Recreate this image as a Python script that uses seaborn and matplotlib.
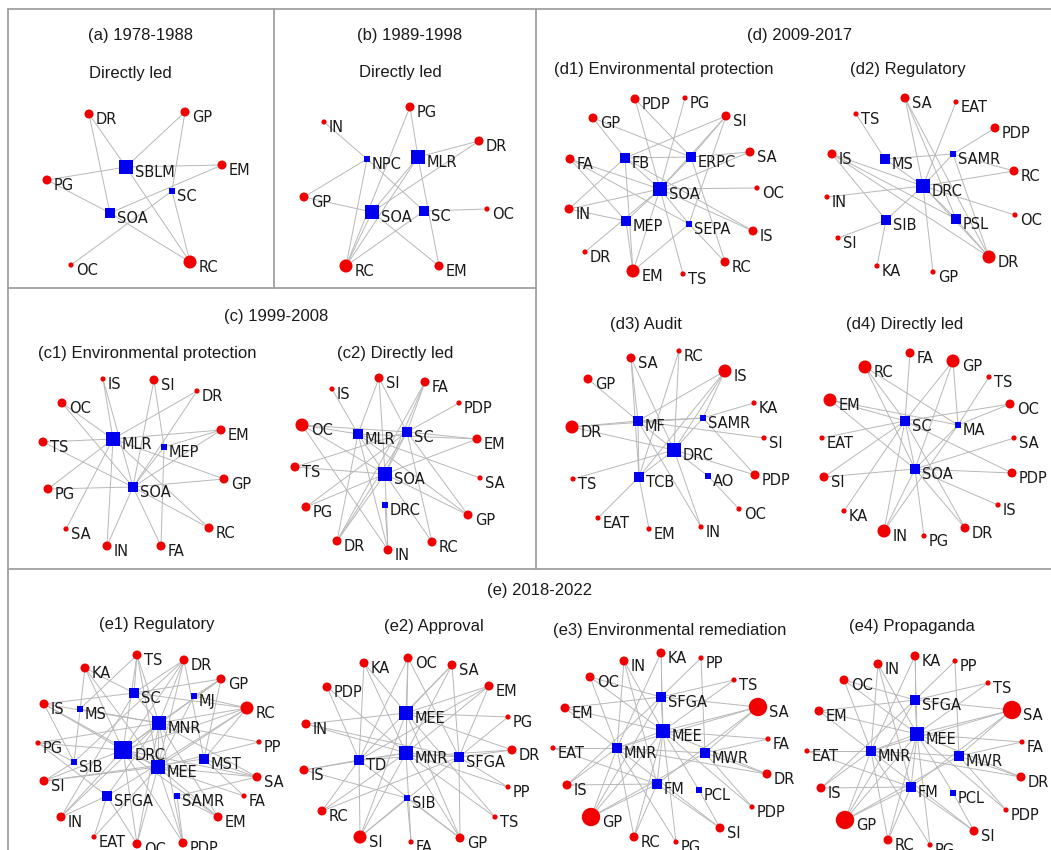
import pandas as pd
import matplotlib.pyplot as plt
import seaborn as sns
from matplotlib.collections import LineCollection

sns.set_theme(style="white")
plt.rcParams["font.family"] = ["DejaVu Sans"]

# Agencies are drawn as blue squares, policy tools as red circles
agencies = ["SBLM", "SC", "SOA", "NPC", "MLR", "MEP", "DRC", "FB", "ERPC", "SEPA",
            "MS", "SAMR", "SIB", "PSL", "MF", "TCB", "AO", "MA", "MJ", "MNR",
            "MST", "MEE", "SFGA", "TD", "MWR", "FM", "PCL"]

# (a) 1978-1988 Directly led
a_nodes = ["DR", "GP", "SBLM", "EM", "PG", "SC", "SOA", "OC", "RC"]
a_x = [89, 185, 126, 222, 47, 172, 110, 71, 190]
a_y = [114, 112, 167, 165, 180, 191, 213, 265, 262]
a_weight = [2, 2, 3, 2, 2, 1, 2, 1, 3]
a_edges = ["DR-SBLM", "DR-SOA", "GP-SBLM", "GP-SC", "EM-SBLM", "EM-SOA", "PG-SBLM",
           "PG-SOA", "SC-OC", "SC-RC", "SBLM-RC", "SOA-RC"]

# (b) 1989-1998 Directly led
b_nodes = ["PG", "IN", "DR", "NPC", "MLR", "GP", "SOA", "SC", "OC", "RC", "EM"]
b_x = [410, 324, 479, 367, 418, 304, 372, 424, 487, 346, 439]
b_y = [107, 122, 141, 159, 157, 197, 212, 211, 209, 266, 266]
b_weight = [2, 1, 2, 1, 3, 2, 3, 2, 1, 3, 2]
b_edges = ["PG-MLR", "PG-RC", "IN-NPC", "NPC-GP", "NPC-SC", "NPC-RC", "DR-MLR",
           "DR-SOA", "GP-SOA", "MLR-SOA", "MLR-EM", "SOA-EM", "SC-OC", "SC-RC",
           "SOA-RC", "MLR-RC"]

# (c1) 1999-2008 Environmental protection
c1_nodes = ["IS", "SI", "DR", "OC", "MLR", "MEP", "EM", "TS", "GP", "SOA", "PG",
            "SA", "RC", "IN", "FA"]
c1_x = [103, 154, 197, 62, 113, 164, 221, 43, 224, 133, 48, 66, 209, 107, 161]
c1_y = [379, 380, 391, 403, 439, 447, 430, 442, 479, 487, 489, 529, 528, 546, 546]
c1_weight = [1, 2, 1, 2, 3, 1, 2, 2, 2, 2, 2, 1, 2, 2, 2]
c1_edges = ["IS-MLR", "IS-SOA", "SI-SOA", "SI-MEP", "DR-MLR", "DR-SOA", "OC-SOA",
            "OC-MLR", "TS-MLR", "TS-SOA", "EM-MLR", "EM-MEP", "EM-SOA", "GP-MLR",
            "GP-SOA", "PG-SOA", "PG-MLR", "SA-MLR", "IN-MLR", "IN-SOA", "FA-SOA",
            "FA-MEP", "RC-SOA", "RC-MLR", "MEP-SOA"]

# (c2) 1999-2008 Directly led
c2_nodes = ["SI", "FA", "IS", "PDP", "OC", "MLR", "SC", "EM", "TS", "SOA", "SA",
            "PG", "DRC", "GP", "DR", "RC", "IN"]
c2_x = [379, 425, 332, 459, 302, 358, 407, 477, 295, 385, 480, 306, 385, 468, 337, 432, 388]
c2_y = [378, 382, 389, 403, 425, 434, 432, 439, 467, 474, 478, 507, 505, 515, 541, 542, 550]
c2_weight = [2, 2, 1, 1, 3, 2, 2, 2, 2, 3, 1, 2, 1, 2, 2, 2, 2]
c2_edges = ["SI-MLR", "SI-SC", "SI-SOA", "FA-SC", "FA-SOA", "FA-DR", "IS-MLR",
            "PDP-SC", "OC-MLR", "OC-SC", "OC-SOA", "OC-IN", "EM-SC", "EM-MLR",
            "EM-SOA", "TS-SOA", "TS-SC", "SA-MLR", "PG-SC", "PG-SOA", "GP-SC",
            "GP-MLR", "GP-SOA", "DR-MLR", "DR-SOA", "DR-SC", "RC-SC", "RC-SOA",
            "IN-MLR", "IN-SOA", "IN-DRC", "MLR-SOA", "SC-SOA"]

# (d1) 2009-2017 Environmental protection
d1_nodes = ["PDP", "PG", "SI", "GP", "FB", "ERPC", "SA", "FA", "SOA", "OC", "IN",
            "MEP", "SEPA", "IS", "DR", "RC", "EM", "TS"]
d1_x = [635, 685, 726, 593, 625, 691, 750, 570, 660, 757, 569, 626, 689, 753, 585, 725, 633, 683]
d1_y = [99, 98, 116, 118, 158, 157, 152, 159, 189, 188, 209, 221, 224, 231, 252, 262, 271, 274]
d1_weight = [2, 1, 2, 2, 2, 2, 2, 2, 3, 1, 2, 2, 1, 2, 1, 2, 3, 1]
d1_edges = ["GP-FB", "GP-ERPC", "PDP-SOA", "PDP-ERPC", "PG-SOA", "SI-FB", "SI-ERPC",
            "SI-SOA", "SI-SEPA", "SA-ERPC", "SA-SOA", "FA-SOA", "FA-MEP", "FA-SEPA",
            "OC-SOA", "IN-FB", "IN-SOA", "IN-MEP", "IS-SOA", "IS-FB", "DR-SOA",
            "RC-SEPA", "RC-ERPC", "EM-MEP", "EM-FB", "EM-SOA", "EM-SEPA", "TS-SOA",
            "FB-SOA", "ERPC-SOA", "MEP-SOA", "SEPA-SOA", "FB-ERPC"]

# (d2) 2009-2017 Regulatory
d2_nodes = ["SA", "EAT", "TS", "PDP", "IS", "MS", "SAMR", "RC", "DRC", "IN", "OC",
            "SIB", "PSL", "SI", "DR", "KA", "GP"]
d2_x = [905, 956, 856, 995, 832, 885, 953, 1014, 923, 827, 1015, 886, 956, 838, 989, 877, 933]
d2_y = [98, 102, 114, 128, 154, 159, 154, 171, 186, 197, 215, 220, 219, 238, 257, 266, 272]
d2_weight = [2, 1, 1, 2, 2, 2, 1, 2, 3, 1, 1, 2, 2, 1, 3, 1, 1]
d2_edges = ["SA-DRC", "SA-PSL", "SA-DR", "EAT-DRC", "TS-MS", "PDP-SAMR", "IS-DRC",
            "IS-SIB", "IS-PSL", "IS-DR", "MS-SAMR", "MS-DRC", "SAMR-RC", "SAMR-DR",
            "RC-DRC", "DRC-IN", "DRC-OC", "DRC-SIB", "DRC-PSL", "DRC-GP", "SIB-SI",
            "SIB-KA", "PSL-DR", "DRC-DR", "SAMR-DRC"]

# (d3) 2009-2017 Audit
d3_nodes = ["SA", "RC", "IS", "GP", "KA", "MF", "SAMR", "DR", "SI", "DRC", "TCB",
            "AO", "PDP", "TS", "OC", "EAT", "EM", "IN"]
d3_x = [631, 679, 725, 588, 754, 638, 703, 572, 764, 674, 639, 708, 755, 573, 739, 598, 649, 701]
d3_y = [358, 351, 371, 379, 403, 421, 418, 427, 438, 450, 477, 476, 475, 479, 509, 518, 529, 527]
d3_weight = [2, 1, 3, 2, 1, 2, 1, 3, 1, 3, 2, 1, 2, 1, 1, 1, 1, 1]
d3_edges = ["SA-MF", "SA-TCB", "SA-DRC", "RC-DRC", "RC-TCB", "IS-MF", "IS-DRC",
            "IS-SAMR", "IS-TCB", "GP-MF", "KA-SAMR", "MF-SAMR", "DR-MF", "DR-SAMR",
            "DR-DRC", "SI-MF", "MF-TCB", "MF-DRC", "MF-IN", "TS-DRC", "DRC-AO",
            "DRC-PDP", "DRC-IN", "DRC-TCB", "AO-OC", "TCB-EAT", "TCB-EM",
            "SAMR-DRC", "SAMR-PDP"]

# (d4) 2009-2017 Directly led
d4_nodes = ["FA", "RC", "GP", "TS", "EM", "OC", "SC", "MA", "EAT", "SA", "SOA",
            "SI", "PDP", "KA", "IS", "IN", "PG", "DR"]
d4_x = [910, 865, 953, 989, 830, 1010, 905, 958, 822, 1014, 915, 824, 1012, 844, 998, 884, 924, 965]
d4_y = [353, 367, 361, 377, 400, 404, 421, 425, 438, 438, 469, 477, 473, 511, 505, 531, 536, 528]
d4_weight = [2, 3, 3, 1, 3, 2, 2, 1, 1, 1, 2, 2, 2, 1, 1, 3, 1, 2]
d4_edges = ["FA-SC", "RC-SC", "RC-SOA", "RC-MA", "GP-SC", "GP-MA", "GP-SOA",
            "TS-MA", "EM-SC", "EM-MA", "EM-SOA", "OC-SC", "OC-MA", "EAT-SC",
            "SA-SOA", "SI-SC", "SI-SOA", "PDP-SC", "PDP-SOA", "KA-SC", "IS-SOA",
            "IN-SC", "IN-SOA", "IN-MA", "PG-SOA", "DR-SOA", "DR-SC", "SC-SOA", "MA-SOA"]

# (e1) 2018-2022 Regulatory
e1_nodes = ["TS", "DR", "KA", "GP", "SC", "MJ", "IS", "MS", "RC", "MNR", "PG",
            "DRC", "PP", "SIB", "MST", "MEE", "SI", "SA", "SFGA", "SAMR", "FA",
            "IN", "EM", "EAT", "OC", "PDP"]
e1_x = [137, 184, 85, 221, 134, 194, 44, 80, 247, 159, 38, 123, 259, 74, 204, 158,
        44, 257, 107, 177, 244, 61, 218, 94, 137, 183]
e1_y = [655, 660, 668, 679, 693, 696, 704, 709, 708, 723, 743, 750, 742, 762, 759, 767,
        781, 777, 796, 796, 796, 817, 817, 837, 844, 843]
e1_weight = [2, 2, 2, 2, 2, 1, 2, 1, 3, 3, 1, 4, 1, 1, 2, 3, 2, 2, 2, 1, 1, 2, 2, 1, 2, 2]
e1_edges = ["TS-SC", "TS-MNR", "TS-DRC", "TS-MEE", "TS-MS", "DR-SC", "DR-MNR",
            "DR-DRC", "DR-MEE", "DR-MST", "DR-SIB", "KA-SC", "KA-DRC", "KA-MEE",
            "KA-SIB", "GP-MJ", "GP-MNR", "GP-DRC", "GP-MST", "GP-SC", "IS-SC",
            "IS-MNR", "IS-DRC", "IS-SIB", "IS-MEE", "RC-MJ", "RC-MNR", "RC-DRC",
            "RC-MST", "RC-MEE", "RC-SC", "RC-SFGA", "PG-SIB", "PG-DRC", "PG-MNR",
            "PG-SFGA", "PP-MNR", "PP-MEE", "SI-SIB", "SI-DRC", "SI-MEE", "SI-MST",
            "SA-MST", "SA-MEE", "SA-MNR", "SA-DRC", "SA-SAMR", "FA-MST", "FA-MEE",
            "IN-SFGA", "IN-DRC", "IN-MNR", "IN-SC", "EM-SAMR", "EM-MEE", "EM-MNR",
            "EM-DRC", "EAT-SFGA", "EAT-MEE", "OC-SFGA", "OC-MEE", "OC-MNR", "OC-DRC",
            "PDP-SAMR", "PDP-MEE", "PDP-DRC", "PDP-MNR", "DRC-MNR", "DRC-MEE",
            "MNR-MEE", "SC-MNR", "MS-MNR", "MJ-MEE", "SFGA-MNR"]

# (e2) 2018-2022 Approval
e2_nodes = ["KA", "OC", "SA", "PDP", "EM", "MEE", "PG", "IN", "DR", "MNR", "SFGA",
            "TD", "IS", "PP", "SIB", "RC", "TS", "SI", "FA", "GP"]
e2_x = [364, 408, 452, 327, 489, 406, 508, 306, 512, 406, 459, 359, 304, 508, 407, 322, 495, 360, 411, 460]
e2_y = [663, 658, 665, 687, 686, 713, 717, 724, 750, 753, 757, 760, 770, 787, 798, 811, 817, 837, 842, 838]
e2_weight = [2, 2, 2, 2, 2, 3, 1, 2, 2, 3, 2, 2, 2, 1, 1, 2, 1, 3, 1, 2]
e2_edges = ["KA-MEE", "KA-MNR", "KA-TD", "OC-MEE", "OC-MNR", "OC-TD", "OC-SFGA",
            "SA-MEE", "SA-SFGA", "SA-MNR", "SA-TD", "PDP-TD", "PDP-MNR", "EM-MEE",
            "EM-SFGA", "EM-TD", "EM-MNR", "PG-MEE", "PG-SFGA", "IN-MEE", "IN-MNR",
            "IN-SFGA", "DR-SFGA", "DR-MEE", "DR-TD", "IS-TD", "IS-SIB", "IS-MNR",
            "PP-MNR", "PP-SFGA", "RC-TD", "RC-SFGA", "RC-MNR", "TS-MEE", "TS-MNR",
            "SI-TD", "SI-MNR", "SI-SFGA", "SI-MEE", "SI-SIB", "FA-SIB", "FA-MNR",
            "GP-SIB", "GP-TD", "GP-SFGA", "GP-MNR", "GP-MEE", "MEE-MNR", "TD-MNR",
            "MNR-SFGA"]

# (e3) 2018-2022 Environmental remediation
e3_nodes = ["KA", "IN", "PP", "OC", "TS", "SFGA", "SA", "EM", "MEE", "FA", "EAT",
            "MNR", "MWR", "DR", "IS", "FM", "PCL", "PDP", "GP", "SI", "RC", "PG"]
e3_x = [661, 624, 701, 590, 734, 661, 758, 565, 663, 768, 553, 617, 705, 767, 567,
        657, 699, 752, 591, 720, 634, 676]
e3_y = [653, 661, 658, 677, 680, 697, 707, 708, 731, 739, 748, 748, 753, 774, 785,
        784, 790, 807, 817, 828, 837, 842]
e3_weight = [2, 2, 1, 2, 1, 2, 4, 2, 3, 1, 1, 2, 2, 2, 2, 2, 1, 1, 4, 2, 2, 1]
e3_edges = ["KA-SFGA", "KA-MEE", "KA-MNR", "IN-MNR", "IN-MEE", "IN-FM", "PP-MWR",
            "PP-SFGA", "OC-SFGA", "OC-MEE", "OC-MNR", "TS-SFGA", "TS-MEE",
            "SA-SFGA", "SA-MEE", "SA-MWR", "SA-MNR", "SA-FM", "EM-SFGA", "EM-MEE",
            "EM-MNR", "FA-MEE", "FA-MWR", "EAT-MNR", "EAT-FM", "DR-MWR", "DR-MNR",
            "DR-MEE", "IS-FM", "IS-MNR", "IS-SFGA", "PDP-MWR", "PDP-MEE", "GP-MNR",
            "GP-FM", "GP-SFGA", "GP-MEE", "GP-MWR", "SI-FM", "SI-PCL", "SI-MNR",
            "RC-MNR", "RC-FM", "RC-MEE", "PG-MEE", "PG-MNR", "MNR-MEE", "MEE-SFGA",
            "MEE-FM", "MNR-MWR", "MEE-PCL"]

# (e4) Propaganda has the same network as (e3), laid out one panel to the right
e4_nodes = e3_nodes
e4_x = [v + 254 for v in e3_x]
e4_y = [v + 3 for v in e3_y]
e4_weight = e3_weight
e4_edges = e3_edges

panels = [
    (a_nodes, a_x, a_y, a_weight, a_edges),
    (b_nodes, b_x, b_y, b_weight, b_edges),
    (c1_nodes, c1_x, c1_y, c1_weight, c1_edges),
    (c2_nodes, c2_x, c2_y, c2_weight, c2_edges),
    (d1_nodes, d1_x, d1_y, d1_weight, d1_edges),
    (d2_nodes, d2_x, d2_y, d2_weight, d2_edges),
    (d3_nodes, d3_x, d3_y, d3_weight, d3_edges),
    (d4_nodes, d4_x, d4_y, d4_weight, d4_edges),
    (e1_nodes, e1_x, e1_y, e1_weight, e1_edges),
    (e2_nodes, e2_x, e2_y, e2_weight, e2_edges),
    (e3_nodes, e3_x, e3_y, e3_weight, e3_edges),
    (e4_nodes, e4_x, e4_y, e4_weight, e4_edges),
]

titles = [
    ("(a) 1978-1988", 140, 35), ("Directly led", 130, 73),
    ("(b) 1989-1998", 410, 35), ("Directly led", 400, 72),
    ("(c) 1999-2008", 276, 317),
    ("(c1) Environmental protection", 147, 353), ("(c2) Directly led", 395, 353),
    ("(d) 2009-2017", 800, 35),
    ("(d1) Environmental protection", 664, 69), ("(d2) Regulatory", 908, 69),
    ("(d3) Audit", 646, 324), ("(d4) Directly led", 905, 324),
    ("(e) 2018-2022", 540, 590),
    ("(e1) Regulatory", 157, 625), ("(e2) Approval", 434, 627),
    ("(e3) Environmental remediation", 670, 630), ("(e4) Propaganda", 912, 627),
]

red = "#f00000"
blue = "#0000ee"
edge_color = "#b8b8b8"
marker_sizes = {1: 14, 2: 42, 3: 88, 4: 175}
half_px = {1: 2.5, 2: 4.5, 3: 6.5, 4: 9}

rows = []
segments = []
for nodes, xs, ys, ws, edges in panels:
    pos = {n: (x, y) for n, x, y in zip(nodes, xs, ys)}
    for n, x, y, w in zip(nodes, xs, ys, ws):
        kind = "agency" if n in agencies else "tool"
        rows.append({"name": n, "x": x, "y": y, "weight": w, "kind": kind})
    for e in edges:
        s, t = e.split("-")
        segments.append([pos[s], pos[t]])

df = pd.DataFrame(rows)

fig = plt.figure(figsize=(10.51, 8.5), dpi=100)
ax = fig.add_axes([0, 0, 1, 1])
ax.set_xlim(0, 1051)
ax.set_ylim(850, 0)
ax.axis("off")

# panel frames
frame = dict(color="#a0a0a0", lw=1.3, zorder=0)
ax.plot([8, 1051], [9, 9], **frame)
ax.plot([8, 8], [9, 850], **frame)
ax.plot([274, 274], [9, 288], **frame)
ax.plot([536, 536], [9, 569], **frame)
ax.plot([8, 536], [288, 288], **frame)
ax.plot([8, 1051], [569, 569], **frame)

ax.add_collection(LineCollection(segments, colors=edge_color, linewidths=0.7, zorder=1))

sns.scatterplot(
    data=df, x="x", y="y",
    hue="kind", palette={"tool": red, "agency": blue},
    style="kind", markers={"tool": "o", "agency": "s"},
    size="weight", sizes=marker_sizes,
    linewidth=0, legend=False, ax=ax, zorder=3
)

for _, r in df.iterrows():
    dx = (half_px[r["weight"]] + 2.5) * 0.72
    ax.annotate(r["name"], (r["x"], r["y"]), xytext=(dx, -7.5),
                textcoords="offset points", ha="left", va="baseline",
                fontsize=10.5, color="#1a1a1a", zorder=4)

for text, x, y in titles:
    ax.text(x, y, text, ha="center", va="center", fontsize=12,
            family=["Liberation Sans", "DejaVu Sans"], color="#1a1a1a")

ax.set_xlim(0, 1051)
ax.set_ylim(850, 0)

plt.savefig("out.png", dpi=100)
plt.close()
